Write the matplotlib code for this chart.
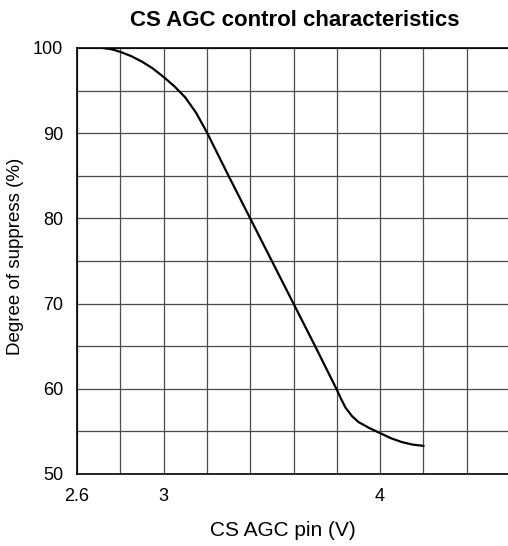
import matplotlib
matplotlib.use('Agg')
import matplotlib.pyplot as plt

# Curve.
PIN_V = [2.72, 2.76, 2.8, 2.85, 2.9, 2.95, 3.0, 3.05, 3.1, 3.15, 3.2,
         3.3, 3.4, 3.5, 3.6, 3.7, 3.8, 3.82, 3.84, 3.87, 3.9, 3.95,
         4.0, 4.05, 4.1, 4.15, 4.2]
SUPPRESS = [100.0, 99.85, 99.55, 99.05, 98.4, 97.6, 96.6, 95.5, 94.2,
            92.4, 90.1, 85.0, 80.0, 75.0, 70.0, 65.0, 59.9, 58.8, 57.8,
            56.8, 56.1, 55.4, 54.8, 54.2, 53.75, 53.45, 53.3]

X_GRID = [2.6, 2.8, 3.0, 3.2, 3.4, 3.6, 3.8, 4.0, 4.2, 4.4, 4.6]
X_LABELS = ['2.6', '', '3', '', '', '', '', '4', '', '', '']
Y_GRID = [50, 55, 60, 65, 70, 75, 80, 85, 90, 95, 100]
Y_LABELS = ['50', '', '60', '', '70', '', '80', '', '90', '', '100']

plt.rcParams['font.family'] = ['Liberation Sans', 'DejaVu Sans']

fig = plt.figure(figsize=(5.08, 5.46), dpi=100)
ax = fig.add_axes([77 / 508, 72 / 546, 433 / 508, 426 / 546])

ax.plot(PIN_V, SUPPRESS, color='black', linewidth=1.6, zorder=3)

ax.set_xlim(2.6, 4.6)
ax.set_ylim(50, 100)
ax.set_xticks(X_GRID)
ax.set_xticklabels(X_LABELS, fontsize=13)
ax.set_yticks(Y_GRID)
ax.set_yticklabels(Y_LABELS, fontsize=13)
ax.tick_params(length=0, pad=10)
ax.grid(True, color='#4a4a4a', linewidth=0.9)
for side in ['left', 'bottom', 'top']:
  ax.spines[side].set_linewidth(1.2)
ax.spines['right'].set_visible(False)

fig.text(295 / 508, 1 - 20 / 546, 'CS AGC control characteristics',
         ha='center', va='center', fontsize=16, fontweight='bold')
fig.text(283 / 508, 1 - 530 / 546, 'CS AGC pin (V)',
         ha='center', va='center', fontsize=15)
fig.text(16 / 508, 1 - 256 / 546, 'Degree of suppress (%)',
         ha='center', va='center', rotation=90, fontsize=13.5)

fig.savefig('out.png', dpi=100)
plt.close(fig)
